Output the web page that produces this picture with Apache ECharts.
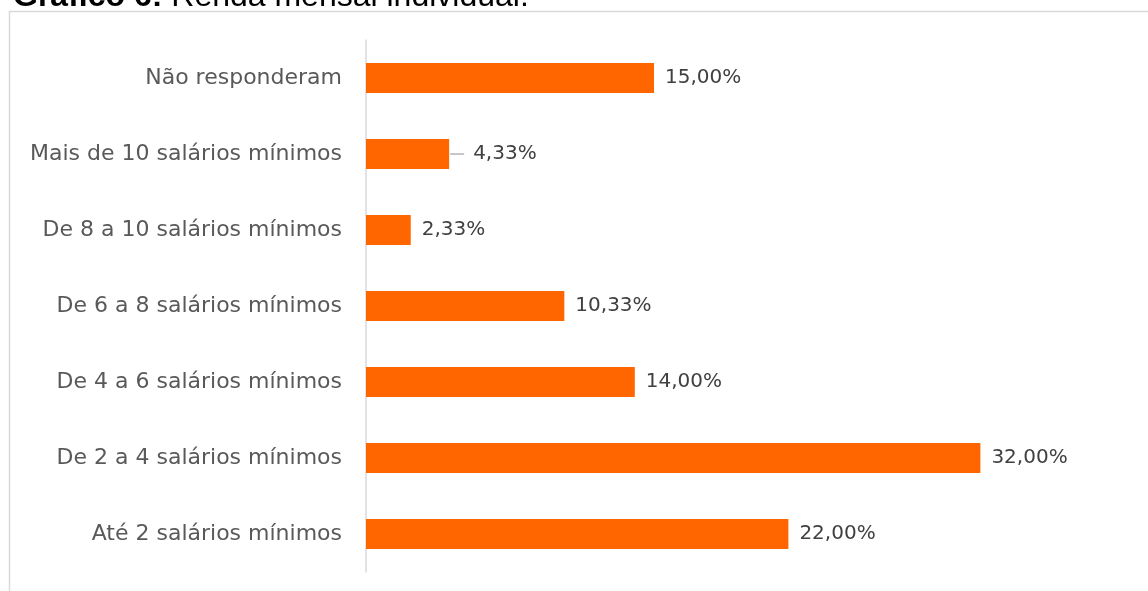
<!DOCTYPE html>
<html><head><meta charset="utf-8">
<script src="https://cdn.jsdelivr.net/npm/echarts@6/dist/echarts.min.js"></script>
<style>html,body{margin:0;padding:0;background:#fff}#c{width:1148px;height:591px}</style>
</head><body><div id="c"></div>
<script>
const categories = ["Até 2 salários mínimos","De 2 a 4 salários mínimos","De 4 a 6 salários mínimos","De 6 a 8 salários mínimos","De 8 a 10 salários mínimos","Mais de 10 salários mínimos","Não responderam"];
const values = [22.00, 32.00, 14.00, 10.33, 2.33, 4.33, 15.00];
const leaderIndex = 5;
const fmt = v => v.toFixed(2).replace('.', ',') + '%';
const FONT = 'DejaVu Sans';
const chart = echarts.init(document.getElementById('c'));
chart.setOption({
  animation: false,
  graphic: [
    {type:'rect', shape:{x:9.5,y:11.5,width:1300,height:700}, style:{fill:'none',stroke:'#d9d9d9',lineWidth:1.5}, silent:true},
    {type:'text', left:13, top:-19, style:{text:'{b|Gráfico 6:} Renda mensal individual.', rich:{b:{fontWeight:'bold',fontSize:32,fontFamily:'Liberation Sans',fill:'#000'}}, fontSize:32, fontFamily:'Liberation Sans', fill:'#000'}}
  ],
  grid: {left: 366, top: 40, bottom: 19, width: 672, containLabel: false},
  xAxis: {type:'value', min:0, max:35, show:false},
  yAxis: {type:'category', data: categories,
    axisLine:{show:true, lineStyle:{color:'#d9d9d9', width:1.5}},
    axisTick:{show:false},
    axisLabel:{color:'#595959', fontSize:22, fontFamily:FONT, margin:24}
  },
  series: [{
    type:'bar', barWidth:30,
    itemStyle:{color:'#ff6600'},
    label:{show:true, position:'right', distance:11, color:'#404040', fontSize:20, fontFamily:FONT,
      formatter: p => p.dataIndex === leaderIndex ? '{ln|}{sp|}' + fmt(p.value) : fmt(p.value),
      rich:{ln:{width:14,height:1,backgroundColor:'#8c8c8c'}, sp:{width:9}}
    },
    data: values.map((v,i)=> i===leaderIndex ? {value:v, label:{distance:1}} : v)
  }]
});
</script></body></html>
